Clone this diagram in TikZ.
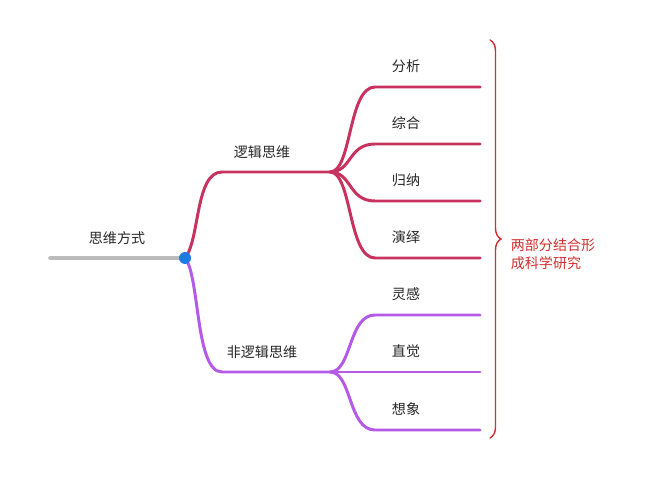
\documentclass[tikz,border=0pt]{standalone}
\usepackage{fontspec}
\setmainfont{Noto Sans CJK SC}
\usetikzlibrary{positioning}
\usetikzlibrary{decorations.pathreplacing}
\definecolor{logic}{HTML}{C8325F}
\definecolor{nonlogic}{HTML}{B45AE6}
\definecolor{rootgray}{HTML}{BBBBBB}
\definecolor{dotblue}{HTML}{1E7BE0}
\definecolor{notered}{HTML}{D03030}
\begin{document}
\begin{tikzpicture}[x=0.02cm, y=-0.02cm, line cap=round,
    lab/.style={font=\fontsize{8}{10}\selectfont, text=black!85},
    branch/.style={line width=1.7pt}]
        \useasboundingbox (0,0) rectangle (672,486);
        % root
        \coordinate (rootL) at (50,258);
        \coordinate (root) at (185,258);
        \coordinate (a) at (330,172);
        \coordinate (b) at (330,372);
        \node[lab] (rootT) at (117,238) {思维方式};

        % logic
        \draw[branch, logic] (root) .. controls (200,240) and (195,172) .. (222,172) -- (a);
        \node[lab] (aT) at (262,152) {逻辑思维};
        \foreach \y/\t [count=\i] in {87/分析,144/综合,201/归纳,258/演绎} {
            \coordinate (a\i) at (480,\y);
            \draw[branch, logic] (a) .. controls (352,172) and (348,\y) .. (375,\y) -- (a\i);
            \node[lab] (a\i T) at (406,\y-21) {\t};
        }

        % non logic
        \draw[branch, nonlogic] (root) .. controls (200,276) and (195,372) .. (222,372) -- (b);
        \node[lab] (bT) at (262,352) {非逻辑思维};
        \foreach \y/\t [count=\i] in {315/灵感,372/直觉,430/想象} {
            \coordinate (b\i) at (480,\y);
            \draw[branch, nonlogic] (b) .. controls (352,372) and (348,\y) .. (375,\y) -- (b\i);
            \node[lab] (b\i T) at (406,\y-21) {\t};
        }

        \draw[line width=2pt, rootgray] (rootL) -- (root);
        \fill[dotblue] (root) circle (6);

        % note
        \coordinate (bt) at (490,40);
        \coordinate (bb) at (490,438);
        \draw[notered, line width=0.8pt, decorate, decoration={brace, amplitude=0.22cm}] (bt) -- (bb);
        \node[lab, text=notered, align=left] (note) at (553,254) {两部分结合形\\成科学研究};
\end{tikzpicture}
\end{document}
